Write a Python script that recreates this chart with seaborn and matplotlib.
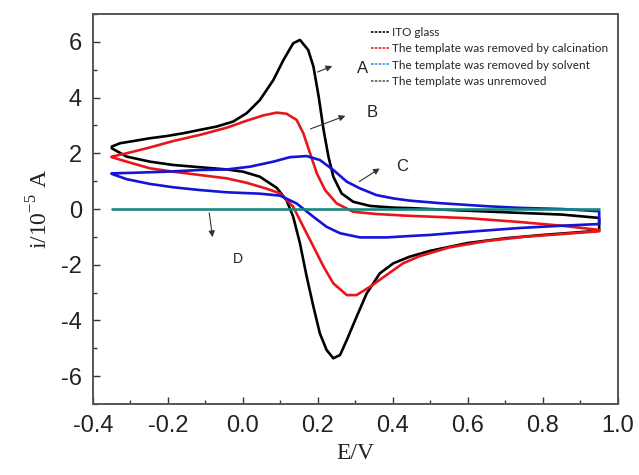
import seaborn as sns
import matplotlib.pyplot as plt
import pandas as pd
from matplotlib.lines import Line2D
from matplotlib.ticker import MultipleLocator

# Cyclic voltammograms (loop: forward scan then reverse scan)
ito_E = [-0.35, -0.328, -0.292, -0.248, -0.203, -0.159, -0.115, -0.07, -0.026, 0.01, 0.045,
         0.081, 0.108, 0.134, 0.152, 0.174, 0.188, 0.202, 0.215, 0.228, 0.241, 0.263, 0.294,
         0.339, 0.401, 0.45, 0.56, 0.74, 0.85, 0.95,
         0.95, 0.85, 0.80, 0.70, 0.60, 0.50, 0.445, 0.401, 0.365, 0.33, 0.303, 0.277, 0.259,
         0.241, 0.223, 0.205, 0.188, 0.17, 0.152, 0.134, 0.116, 0.09, 0.045, 0.0, -0.043,
         -0.115, -0.186, -0.248, -0.31, -0.35]
ito_i = [2.24, 2.36, 2.44, 2.54, 2.62, 2.72, 2.84, 2.96, 3.14, 3.44, 3.91,
         4.63, 5.35, 5.95, 6.07, 5.71, 5.11, 4.03, 2.84, 1.88, 1.16, 0.56, 0.26,
         0.11, 0.05, 0.03, -0.04, -0.14, -0.2, -0.32,
         -0.78, -0.88, -0.93, -1.05, -1.22, -1.5, -1.71, -1.95, -2.31, -3.03, -3.87, -4.7, -5.24,
         -5.36, -5.06, -4.46, -3.51, -2.43, -1.23, -0.28, 0.32, 0.76, 1.16, 1.34, 1.42,
         1.50, 1.58, 1.70, 1.88, 2.18]

calc_E = [-0.35, -0.31, -0.248, -0.186, -0.115, -0.043, 0.01, 0.054, 0.09, 0.116, 0.143,
          0.161, 0.179, 0.197, 0.219, 0.25, 0.294, 0.356, 0.436, 0.60, 0.74, 0.85, 0.95,
          0.95, 0.85, 0.75, 0.65, 0.55, 0.47, 0.427, 0.383, 0.339, 0.303, 0.277, 0.241, 0.215,
          0.188, 0.161, 0.134, 0.099, 0.063, 0.01, -0.043, -0.115, -0.186, -0.248, -0.31, -0.35]
calc_i = [1.88, 2.0, 2.21, 2.44, 2.66, 2.92, 3.17, 3.36, 3.46, 3.42, 3.2,
          2.72, 2.0, 1.28, 0.68, 0.2, -0.1, -0.18, -0.24, -0.33, -0.47, -0.6, -0.75,
          -0.8, -0.9, -1.0, -1.15, -1.38, -1.7, -1.95, -2.37, -2.79, -3.09, -3.09, -2.67, -2.07,
          -1.35, -0.64, 0.08, 0.56, 0.73, 0.94, 1.10, 1.22, 1.34, 1.46, 1.70, 1.86]

solv_E = [-0.35, -0.292, -0.203, -0.115, -0.043, 0.019, 0.081, 0.125, 0.17, 0.205, 0.241,
          0.277, 0.312, 0.356, 0.401, 0.445, 0.525, 0.65, 0.74, 0.85, 0.95,
          0.95, 0.85, 0.74, 0.60, 0.50, 0.445, 0.383, 0.312, 0.259, 0.223, 0.188, 0.143, 0.099,
          0.045, -0.043, -0.115, -0.186, -0.248, -0.31, -0.35]
solv_i = [1.28, 1.30, 1.34, 1.40, 1.42, 1.52, 1.70, 1.86, 1.90, 1.76, 1.40,
          0.98, 0.74, 0.5, 0.38, 0.3, 0.21, 0.1, 0.04, 0.0, -0.08,
          -0.54, -0.6, -0.68, -0.82, -0.93, -0.97, -1.02, -1.02, -0.87, -0.64, -0.28, 0.2, 0.48,
          0.55, 0.6, 0.68, 0.78, 0.9, 1.07, 1.26]

unrem_E = [-0.35, 0.95]
unrem_i = [0.0, 0.0]

labels = ["ITO glass",
          "The template was removed by calcination",
          "The template was removed by solvent",
          "The template was unremoved"]
line_colors = ["black", "#e8161b", "#1414d8", "#16887f"]
legend_colors = ["black", "#e8161b", "#3a8fd8", "#5e6244"]

curves = [(ito_E, ito_i), (calc_E, calc_i), (solv_E, solv_i), (unrem_E, unrem_i)]

sns.set_style("ticks")
plt.rcParams['font.family'] = ['Liberation Sans', 'DejaVu Sans']
plt.rcParams['axes.unicode_minus'] = False

fig = plt.figure(figsize=(6.39, 4.75), dpi=100)
ax = fig.add_axes([0.1455, 0.1495, 0.8215, 0.821])

for (E, i), lab, col in zip(curves, labels, line_colors):
    df = pd.DataFrame({"E": E, "i": i})
    sns.lineplot(data=df, x="E", y="i", sort=False, estimator=None, color=col,
                 lw=1.9, solid_joinstyle="round", solid_capstyle="round", ax=ax)

ax.set_xlim(-0.4, 1.0)
ax.set_ylim(-7, 7)
ax.xaxis.set_minor_locator(MultipleLocator(0.1))
ax.yaxis.set_major_locator(MultipleLocator(2))
ax.yaxis.set_minor_locator(MultipleLocator(1))
ax.set_xticks([-0.4, -0.2, 0.0, 0.2, 0.4, 0.6, 0.8, 1.0])
ax.set_xticklabels(["-0.4", "-0.2", "0.0", "0.2", "0.4", "0.6", "0.8", "1.0"])
ax.set_yticks([-6, -4, -2, 0, 2, 4, 6])
ax.set_yticklabels(["-6", "-4", "-2", "0", "2", "4", "6"])
ax.tick_params(which="major", direction="in", length=5, width=1, labelsize=17,
               colors="#333333", labelcolor="#222222", pad=8)
ax.tick_params(which="minor", direction="in", length=3, width=1, colors="#333333")
for s in ax.spines.values():
    s.set_color("#555555")
    s.set_linewidth(1.4)

ax.set_xlabel("E/V", family="Liberation Serif", fontsize=17, color="#222222", labelpad=4)
ax.set_ylabel(r"i/10$^{\mathregular{-5}}$ A", family="Liberation Serif", fontsize=17,
              color="#222222", labelpad=6)

# curve annotations
arrow = dict(arrowstyle="-|>", color="#333333", lw=0.8, mutation_scale=9)
ax.annotate("", xy=(0.245, 5.17), xytext=(0.192, 4.88), arrowprops=arrow)
ax.text(0.304, 5.06, "A", fontsize=12, va="center", color="#222222")
ax.annotate("", xy=(0.28, 3.38), xytext=(0.173, 2.84), arrowprops=arrow)
ax.text(0.331, 3.48, "B", fontsize=12, va="center", color="#222222")
ax.annotate("", xy=(0.371, 1.51), xytext=(0.304, 0.93), arrowprops=arrow)
ax.text(0.408, 1.51, "C", fontsize=12, va="center", color="#222222")
ax.annotate("", xy=(-0.08, -1.11), xytext=(-0.091, -0.04), arrowprops=arrow)
ax.text(-0.027, -1.8, "D", fontsize=10, va="center", color="#222222")

handles = [Line2D([], [], color=c, lw=1.2, ls=(0, (1.5, 0.8))) for c in legend_colors]
ax.legend(handles, labels, loc="upper right", bbox_to_anchor=(0.995, 0.985),
          frameon=False, prop={"family": "Lato", "size": 8.5}, handlelength=1.5,
          handletextpad=0.3, labelspacing=0.45, borderaxespad=0.2)

fig.savefig("out.png", dpi=100)
